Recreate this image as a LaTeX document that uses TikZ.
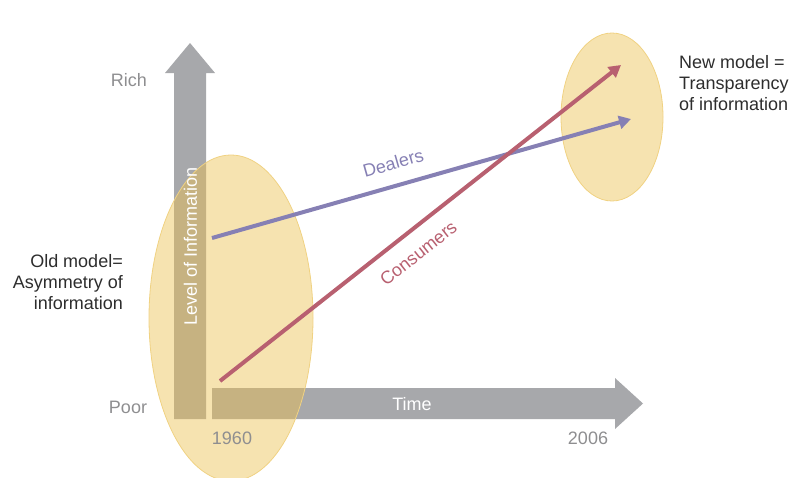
\documentclass[tikz,border=0pt]{standalone}
\usepackage{fontspec}
\setmainfont{Liberation Sans}
\usetikzlibrary{arrows.meta}

\definecolor{axisgray}{RGB}{167,168,171}
\definecolor{labelgray}{RGB}{142,142,144}
\definecolor{textdark}{RGB}{45,45,45}
\definecolor{regionfill}{RGB}{236,192,80}
\definecolor{regionline}{RGB}{240,210,130}
\definecolor{dealerpurple}{RGB}{134,128,180}
\definecolor{consumerred}{RGB}{184,96,112}

\begin{document}
\begin{tikzpicture}[x=1pt, y=-1pt,
    txt/.style={font=\fontsize{18}{21}\selectfont, inner sep=0pt},
    graytxt/.style={txt, text=labelgray},
    whitetxt/.style={txt, text=white},
    region/.style={fill=regionfill, fill opacity=0.45, draw=regionline, line width=0.8pt},
    trend/.style={line width=4pt, -{Triangle[length=12pt, width=13pt]}}]
    \useasboundingbox (0,0) rectangle (794,477);

    % axes
    \fill[axisgray] (174,419) -- (174,73) -- (165,73) -- (190,43) -- (215,73)
        -- (206,73) -- (206,419) -- cycle;
    \fill[axisgray] (212,388) -- (615,388) -- (615,378) -- (643,403.5) -- (615,429)
        -- (615,419) -- (212,419) -- cycle;

    % old and new model
    \filldraw[region] (231,318) ellipse [x radius=82, y radius=163];
    \filldraw[region] (612,117) ellipse [x radius=51, y radius=84];

    \node[whitetxt, rotate=90] (level) at (190.5,246) {Level of Information};
    \node[whitetxt] (time) at (412,404) {Time};
    \node[graytxt] (rich) at (129,80) {Rich};
    \node[graytxt] (poor) at (128,407) {Poor};
    \node[graytxt] (start) at (232,438) {1960};
    \node[graytxt] (end) at (588,438) {2006};

    \node[txt, text=textdark, align=right, anchor=east] (old) at (123,282)
        {Old model=\\Asymmetry of\\information};
    \node[txt, text=textdark, align=left, anchor=west] (new) at (679,83)
        {New model =\\Transparency\\of information};

    % dealers and consumers
    \coordinate (d0) at (212,238);
    \coordinate (d1) at (631,119);
    \coordinate (c0) at (220,381);
    \coordinate (c1) at (621,65);
    \draw[trend, dealerpurple] (d0) -- node[pos=0.447, sloped, above=14pt, txt] (dealers) {Dealers} (d1);
    \draw[trend, consumerred] (c0) -- node[pos=0.46, sloped, below=14pt, txt] (consumers) {Consumers} (c1);
\end{tikzpicture}
\end{document}
